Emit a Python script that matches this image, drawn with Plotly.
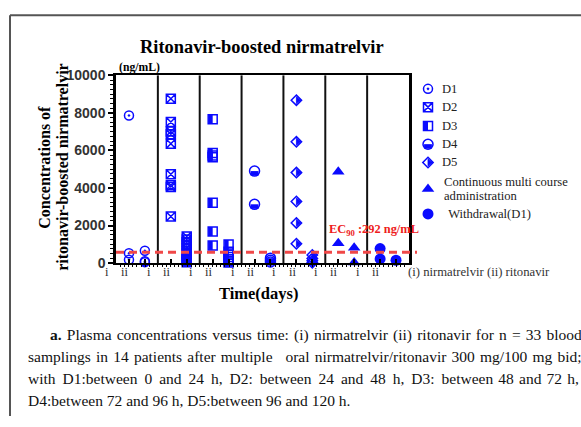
import plotly.graph_objects as go

W, H = 581, 427

# ---------------- data ----------------
series_names = ["D1", "D2", "D3", "D4", "D5",
                "Continuous multi course|administration", "Withdrawal(D1)"]
# values for (ii) ritonavir column and (i) nirmatrelvir column of every day panel
d1_ii = [7860, 520, 180]
d1_i = [660, 100, 50]
d2_ii = [8750, 7520, 7010, 6870, 6360, 4730, 4150, 4050, 2480]
d2_i = [1420, 1260, 1110, 960, 810, 660, 520, 400, 290, 190, 110, 50]
d3_ii = [7660, 5860, 5730, 5640, 3210, 1680, 940]
d3_i = [990, 600, 450, 320, 200, 100, 30]
d4_ii = [4900, 3130]
d4_i = [260, 150, 60]
d5_ii = [8680, 6460, 4820, 3280, 2140, 1030]
d5_i = [430, 250, 120, 20]
cont_ii = [4870, 1060]
cont_i = [820, 30]
wd_ii = [770, 220]
wd_i = [150]
ec90_value = 292          # label value
ec90_drawn_level = 570    # where the dashed line sits in the picture
y_ticks = [0, 2000, 4000, 6000, 8000, 10000]
x_tick_labels = ["i", "ii"]

ii_data = [d1_ii, d2_ii, d3_ii, d4_ii, d5_ii, cont_ii, wd_ii]
i_data = [d1_i, d2_i, d3_i, d4_i, d5_i, cont_i, wd_i]

# ---------------- geometry ----------------
PL, PR, PT, PB = 116, 409, 70, 265          # plot area in pixels
XMAX, YMAX = 7, 10000
px_per_u = (PR - PL) / XMAX
px_per_v = (PB - PT) / YMAX
II_OFF, I_OFF = 0.31, 0.69                  # column offsets inside a day panel
LAB_I_OFF, LAB_II_OFF = -9.0, 8.6           # tick-label offsets (px) from panel start

BLUE = "#0a0aff"
SERIF = "Liberation Serif"
SANS = "Liberation Sans"


def PX(x):
    return x / W


def PY(y):
    return 1 - y / H


fig = go.Figure()

# marker styles: (symbol, size, line width, dx px, dy px)
styles = [
    [("circle-open-dot", 9, 1.5, 0, 0)],
    [("square-x-open", 9, 1.5, 0, 0)],
    [("square-open", 9, 1.5, 0, 0), ("line-ns", 6.4, 4, -2.0, 0)],
    [("circle-open", 10, 1.5, 0, 0), ("line-ew", 5.6, 4.5, 0, 2.3)],
    [("diamond-open", 8, 1.5, 0, 0), ("triangle-right", 6.0, 0.8, 1.5, 0)],
    [("triangle-up", 11, 0, 0, 0)],
    [("circle", 11, 0, 0, 0)],
]


def add_markers(xs, ys, style, xa="x", ya="y", sx=1.0, sy=1.0):
    for sym, size, lw, dx, dy in style:
        fig.add_trace(go.Scatter(
            x=[x + dx / sx for x in xs],
            y=[y - dy / sy for y in ys],
            mode="markers", xaxis=xa, yaxis=ya, showlegend=False,
            cliponaxis=False, hoverinfo="skip",
            marker=dict(symbol=sym, size=size, color=BLUE,
                        line=dict(color=BLUE, width=lw)),
        ))


for k in range(7):
    add_markers([k + II_OFF] * len(ii_data[k]), ii_data[k], styles[k],
                sx=px_per_u, sy=px_per_v)
    add_markers([k + I_OFF] * len(i_data[k]), i_data[k], styles[k],
                sx=px_per_u, sy=px_per_v)

ann = []

# ---------------- custom legend on a pixel helper axis ----------------
leg_rows = [84, 103, 122.5, 141.5, 160.5, 188, 214]
leg_text_x = [440, 440, 440, 440, 440, 442, 443]
LEG_FONT = dict(family=SERIF, size=12.6, color="#222")
for k, name in enumerate(series_names):
    add_markers([428], [leg_rows[k]], styles[k], xa="x2", ya="y2", sx=1, sy=-1)
    parts = name.split("|")
    for j, p in enumerate(parts):
        yy = leg_rows[k] + (15 * j - 7.5 * (len(parts) - 1))
        ann.append(dict(x=PX(leg_text_x[k]), y=PY(yy),
                        text=("\u00a0" + p) if k == 6 else p, xanchor="left",
                        font=LEG_FONT))

# ---------------- layout ----------------
ii_pos = [k + II_OFF for k in range(7)]
i_pos = [k + I_OFF for k in range(7)]

fig.update_layout(
    width=W, height=H, margin=dict(l=0, r=0, t=0, b=0),
    paper_bgcolor="white", plot_bgcolor="rgba(0,0,0,0)",
    showlegend=False,
    xaxis=dict(domain=[PX(PL), PX(PR)], range=[0, XMAX], showgrid=False, zeroline=False,
               showline=True, linecolor="black", linewidth=2, mirror=True,
               tickvals=ii_pos + i_pos, ticks="inside", ticklen=4, tickwidth=1.5,
               tickcolor="black", showticklabels=False,
               minor=dict(dtick=0.1, ticks="outside", ticklen=2, tickwidth=1,
                          tickcolor="black", showgrid=False),
               anchor="y"),
    yaxis=dict(domain=[PY(PB), PY(PT)], range=[0, YMAX], showgrid=False, zeroline=False,
               showline=True, linecolor="black", linewidth=2.5, mirror=True,
               tickvals=y_ticks, ticktext=[str(v) for v in y_ticks],
               ticks="outside", ticklen=5, tickwidth=2,
               tickcolor="black",
               tickfont=dict(family=SANS, size=14, color="#333", weight="bold"),
               minor=dict(dtick=250, ticks="outside", ticklen=3, tickwidth=1.2,
                          tickcolor="black", showgrid=False),
               anchor="x"),
    xaxis2=dict(domain=[0, 1], range=[0, W], visible=False, anchor="y2", fixedrange=True),
    yaxis2=dict(domain=[0, 1], range=[H, 0], visible=False, anchor="x2", fixedrange=True),
)

shapes = []
# panel separators
for k in range(1, 7):
    shapes.append(dict(type="line", xref="x", yref="y domain", x0=k, x1=k, y0=0, y1=1,
                       line=dict(color="#111", width=2)))
# EC90 dashed line
shapes.append(dict(type="line", xref="paper", yref="y", x0=PX(PL), x1=PX(417),
                   y0=ec90_drawn_level, y1=ec90_drawn_level,
                   line=dict(color="#f04848", width=3, dash="8px,5px")))
# outer frame (top and left edges)
shapes.append(dict(type="line", xref="paper", yref="paper", x0=PX(10), x1=1,
                   y0=PY(7.5), y1=PY(7.5), line=dict(color="#555", width=2)))
shapes.append(dict(type="line", xref="paper", yref="paper", x0=PX(10), x1=PX(10),
                   y0=PY(7.5), y1=PY(424), line=dict(color="#555", width=2)))
fig.update_layout(shapes=shapes)

ann.append(dict(x=PX(262), y=PY(41), text="<b>Ritonavir-boosted nirmatrelvir</b>",
                font=dict(family=SERIF, size=18.4, color="black")))
ann.append(dict(x=PX(117), y=PY(62), text="<b>(ng/mL)</b>", xanchor="left",
                font=dict(family=SERIF, size=11.7, color="black")))
ann.append(dict(x=PX(45), y=PY(166), text="<b>Concentrations of</b>", textangle=-90,
                font=dict(family=SERIF, size=16, color="black")))
ann.append(dict(x=PX(63), y=PY(165), text="<b>ritonavir-boosted nirmatrelvir</b>",
                textangle=-90, font=dict(family=SERIF, size=16, color="black")))
ann.append(dict(x=PX(258), y=PY(297), text="<b>Time(days)</b>",
                font=dict(family=SERIF, size=16.5, color="black")))
ann.append(dict(x=PX(327), y=PY(231), xanchor="left",
                text="<b>EC<sub>90</sub> :%d ng/mL</b>" % ec90_value,
                font=dict(family=SERIF, size=12.4, color="#ee1c1c")))
# x tick labels (placed under each day panel, in pixels derived from the axis scale)
for k in range(7):
    x0 = PL + k * px_per_u
    ann.append(dict(x=PX(x0 + LAB_I_OFF), y=PY(274), text=x_tick_labels[0],
                    font=dict(family=SERIF, size=12.5, color="#333")))
    ann.append(dict(x=PX(x0 + LAB_II_OFF), y=PY(274), text=x_tick_labels[1],
                    font=dict(family=SERIF, size=12.5, color="#333")))
ann.append(dict(x=PX(406), y=PY(274), xanchor="left",
                text="(i) nirmatrelvir (ii) ritonavir",
                font=dict(family=SERIF, size=12.7, color="#333")))

# caption (justified lines get extra thin / hair spaces)
HS, TS = "\u200a", "\u2009"


def widen(text, n_thin, rest):
    out, n = [], 0
    for ch in text:
        if ch == " ":
            out.append(" " + (TS if n < n_thin else rest))
            n += 1
        else:
            out.append(ch)
    return "".join(out)


cap = [
    (48, 340, widen("<b>a.</b> Plasma concentrations versus time: (i) nirmatrelvir (ii) ritonavir for n = 33 blood", 0, HS)),
    (26, 362, widen("samplings in 14 patients after multiple \u00a0\u00a0oral nirmatrelvir/ritonavir 300 mg/100 mg bid;", 0, HS)),
    (26, 385, widen("with D1:between 0 and 24 h, D2: between 24 and 48 h, D3: between 48 and 72 h,", 13, HS)),
    (26, 408, "D4:between 72 and 96 h, D5:between 96 and 120 h."),
]
for x, y, t in cap:
    ann.append(dict(x=PX(x), y=PY(y), xanchor="left", text=t,
                    font=dict(family=SERIF, size=15.5, color="#111")))

for a in ann:
    a.setdefault("xref", "paper")
    a.setdefault("yref", "paper")
    a.setdefault("xanchor", "center")
    a.setdefault("yanchor", "middle")
    a["showarrow"] = False
fig.update_layout(annotations=ann)

fig.write_html("out.html")
